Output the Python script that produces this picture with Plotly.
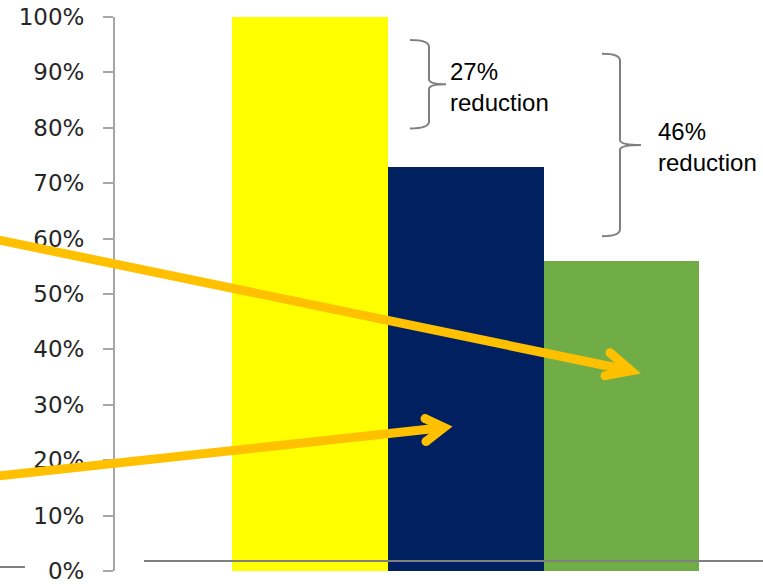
import plotly.graph_objects as go

# Bar data (share of baseline, %)
positions = [0, 1, 2]
values = [100, 73, 56]
bar_colors = ["#FFFF00", "#002060", "#70AD47"]

# Y axis ticks
y_ticks = [0, 10, 20, 30, 40, 50, 60, 70, 80, 90, 100]
y_tick_labels = [f"{v}%" for v in y_ticks]

# Bracket labels
brace_labels = ["27%<br>reduction", "46%<br>reduction"]

FIG_W, FIG_H = 763, 584
M_L, M_R, M_T, M_B = 115, 0, 17, 11
PLOT_W = FIG_W - M_L - M_R
PLOT_H = FIG_H - M_T - M_B


def px_x(px):
    return (px - M_L) / PLOT_W


def px_y(py):
    return (FIG_H - M_B - py) / PLOT_H


def pt(px, py):
    return f"{px_x(px):.5f},{px_y(py):.5f}"


fig = go.Figure()
fig.add_trace(go.Bar(
    x=positions,
    y=values,
    width=1,
    marker=dict(color=bar_colors, line=dict(width=0)),
    hoverinfo="skip",
    showlegend=False,
))

shapes = []

# thin gray floor line across the bars
shapes.append(dict(type="line", xref="paper", yref="paper",
                   x0=px_x(144), x1=px_x(763), y0=px_y(563), y1=px_y(563),
                   line=dict(color="#808080", width=2)))
shapes.append(dict(type="line", xref="paper", yref="paper",
                   x0=px_x(0), x1=px_x(25), y0=px_y(569), y1=px_y(569),
                   line=dict(color="#808080", width=2)))


def brace(x0, x1, xtip, ytop, ybot):
    ymid = (ytop + ybot) / 2
    path = (f"M {pt(x0, ytop)} Q {pt(x1, ytop)} {pt(x1, ytop + 7)} "
            f"L {pt(x1, ymid - 5)} Q {pt(x1, ymid)} {pt(xtip, ymid)} "
            f"Q {pt(x1, ymid)} {pt(x1, ymid + 5)} "
            f"L {pt(x1, ybot - 7)} Q {pt(x1, ybot)} {pt(x0, ybot)}")
    return dict(type="path", xref="paper", yref="paper", path=path,
                line=dict(color="#7F7F7F", width=2))


shapes.append(brace(410, 429, 446, 40, 129))
shapes.append(brace(602, 620, 641, 54, 237))

ARROW = "#FFC000"
AW = 9


def arrow(start, tip, wing_a, wing_b):
    out = [dict(type="line", xref="paper", yref="paper",
                x0=px_x(start[0]), y0=px_y(start[1]),
                x1=px_x(tip[0]), y1=px_y(tip[1]),
                line=dict(color=ARROW, width=AW))]
    out.append(dict(type="path", xref="paper", yref="paper",
                    path=f"M {pt(*wing_a)} L {pt(*tip)} L {pt(*wing_b)}",
                    line=dict(color=ARROW, width=AW)))
    r = AW / 2
    for cx, cy in (wing_a, wing_b):
        out.append(dict(type="circle", xref="paper", yref="paper",
                        x0=px_x(cx - r), x1=px_x(cx + r),
                        y0=px_y(cy + r), y1=px_y(cy - r),
                        fillcolor=ARROW, line=dict(width=0)))
    return out


shapes += arrow((-5, 240), (631, 372), (610, 354), (605, 377))
shapes += arrow((-5, 478), (444, 429), (425, 420), (426, 443))

annotations = [
    dict(xref="paper", yref="paper", x=px_x(448), y=px_y(87),
         text=brace_labels[0], showarrow=False, xanchor="left", yanchor="middle",
         align="left", font=dict(family="Liberation Sans, Arial", size=24, color="#000000")),
    dict(xref="paper", yref="paper", x=px_x(656), y=px_y(147),
         text=brace_labels[1], showarrow=False, xanchor="left", yanchor="middle",
         align="left", font=dict(family="Liberation Sans, Arial", size=24, color="#000000")),
]

fig.update_layout(
    width=FIG_W, height=FIG_H,
    margin=dict(l=M_L, r=M_R, t=M_T, b=M_B, pad=0),
    paper_bgcolor="white", plot_bgcolor="white",
    bargap=0,
    shapes=shapes,
    annotations=annotations,
    xaxis=dict(range=[-1.252, 2.909], visible=False, fixedrange=True),
    yaxis=dict(
        range=[0, 100],
        tickmode="array", tickvals=y_ticks, ticktext=y_tick_labels,
        showgrid=False, zeroline=False,
        showline=True, linecolor="#A6A6A6", linewidth=2,
        ticks="outside", ticklen=10, tickwidth=2, tickcolor="#A6A6A6",
        ticklabelstandoff=14,
        ticklabeloverflow="allow",
        tickfont=dict(family="DejaVu Sans", size=23, color="#262626"),
        fixedrange=True,
    ),
)

fig.write_html("out.html")
